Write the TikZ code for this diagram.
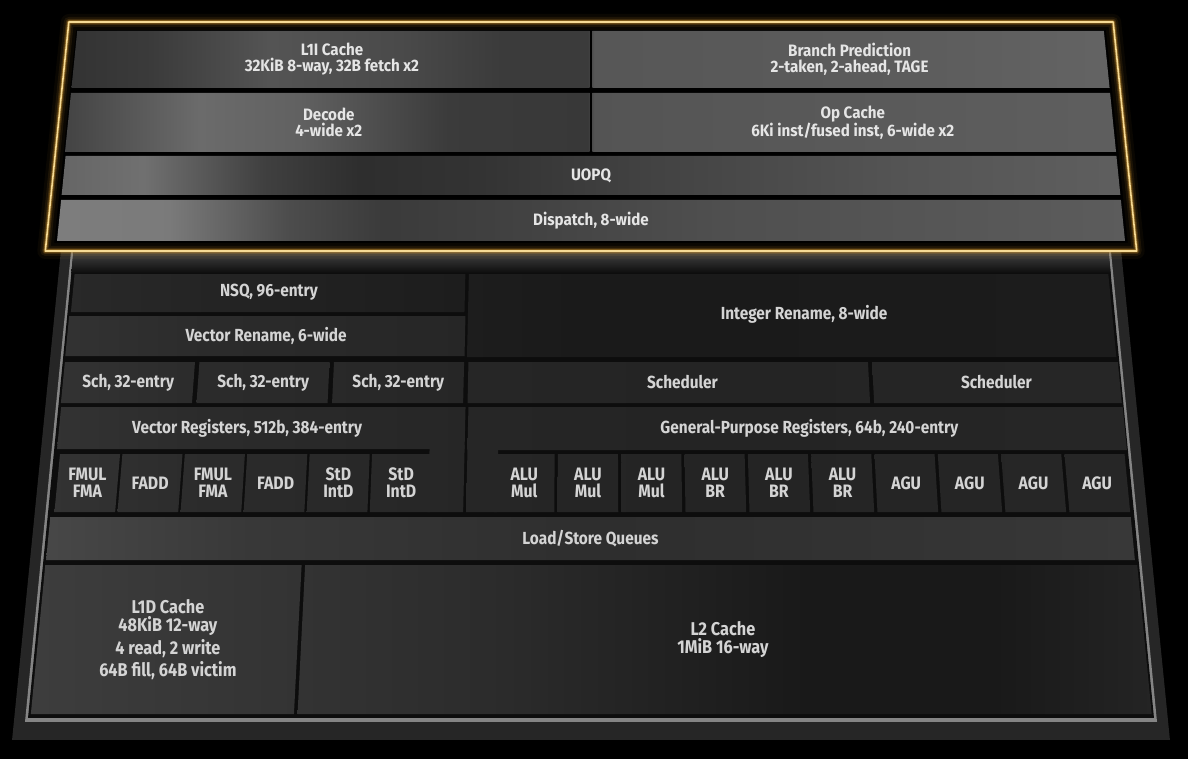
\documentclass[tikz,border=0pt]{standalone}
\usepackage{fontspec}
\setmainfont{Fira Sans}[FakeStretch=0.88]
\newfontfamily\fefont{Fira Sans}[FakeStretch=0.92]

\colorlet{txt}{black!17}
\colorlet{fetxt}{black!10}
\definecolor{gold}{HTML}{C8902C}
\definecolor{goldcore}{HTML}{F6DA94}

% row shadings, 25bp..75bp = x 0..1200
\pgfdeclarehorizontalshading{rowA}{100bp}{color(0bp)=(black!80); color(27.9bp)=(black!80); color(31.25bp)=(black!77); color(36.25bp)=(black!67); color(41.7bp)=(black!71); color(46bp)=(black!77); color(49.5bp)=(black!77); color(49.75bp)=(black!66); color(62.5bp)=(black!64); color(71.25bp)=(black!61); color(100bp)=(black!61)}
\pgfdeclarehorizontalshading{rowB}{100bp}{color(0bp)=(black!73); color(27.9bp)=(black!73); color(33.3bp)=(black!58); color(37.5bp)=(black!62); color(43.75bp)=(black!77); color(49.5bp)=(black!78); color(49.75bp)=(black!67); color(71.25bp)=(black!63); color(100bp)=(black!63)}
\pgfdeclarehorizontalshading{rowC}{100bp}{color(0bp)=(black!60); color(27.7bp)=(black!60); color(31bp)=(black!56); color(36bp)=(black!75); color(40bp)=(black!82); color(45bp)=(black!80); color(52bp)=(black!74); color(62.5bp)=(black!67); color(71.5bp)=(black!63); color(100bp)=(black!63)}
\pgfdeclarehorizontalshading{rowD}{100bp}{color(0bp)=(black!51); color(27.5bp)=(black!51); color(32bp)=(black!52); color(37bp)=(black!70); color(41bp)=(black!77); color(47bp)=(black!74); color(55bp)=(black!69); color(71.8bp)=(black!64); color(100bp)=(black!64)}
\pgfdeclarehorizontalshading{lowtop}{100bp}{color(0bp)=(black!84); color(28bp)=(black!84); color(37.5bp)=(black!87); color(50bp)=(black!90); color(71bp)=(black!89); color(100bp)=(black!89)}
\pgfdeclarehorizontalshading{lowA}{100bp}{color(0bp)=(black!80); color(27.1bp)=(black!80); color(33.3bp)=(black!83); color(44.2bp)=(black!85); color(54.2bp)=(black!86); color(72.1bp)=(black!85); color(100bp)=(black!85)}
\pgfdeclarehorizontalshading{lsq}{100bp}{color(0bp)=(black!72); color(26.9bp)=(black!72); color(35.4bp)=(black!78); color(50bp)=(black!82); color(62.5bp)=(black!80); color(72.3bp)=(black!78); color(100bp)=(black!78)}
\pgfdeclarehorizontalshading{cache}{100bp}{color(0bp)=(black!76); color(26.25bp)=(black!76); color(37.5bp)=(black!80); color(45.8bp)=(black!83); color(58.3bp)=(black!90); color(66.7bp)=(black!90); color(72.9bp)=(black!86); color(100bp)=(black!86)}

% flat u (from the middle) -> picture x, with the tilt of the die
\newcommand{\corners}[4]{%
  \pgfmathsetmacro\xa{591+(#1)*(1+0.000187*((#3)-400))}%
  \pgfmathsetmacro\xb{591+(#2)*(1+0.000187*((#3)-400))}%
  \pgfmathsetmacro\xc{591+(#2)*(1+0.000187*((#4)-400))}%
  \pgfmathsetmacro\xd{591+(#1)*(1+0.000187*((#4)-400))}}
\newcommand{\trap}[5]{\corners{#1}{#2}{#3}{#4}%
  \begin{scope}
    \clip (\xa,#3) -- (\xb,#3) -- (\xc,#4) -- (\xd,#4) -- cycle;
    \path[#5] (0,#3) rectangle (1200,#4);
  \end{scope}}
\newcommand{\blk}[8][0]{\trap{#4}{#5}{#6}{#7}{shade,shading=#3}%
  \node[lbl] (#2) at ({(\xa+\xb+\xc+\xd)/4+#1},{(#6+#7)/2}) {#8};}

\begin{document}
\begin{tikzpicture}[x=1pt,y=-1pt,line join=round,
    lbl/.style={text=txt,font=\bfseries\fontsize{17.5}{15}\selectfont,align=center,inner sep=0pt}]
  \useasboundingbox (0,0) rectangle (1188,759);
  \fill[black] (0,0) rectangle (1188,759);

  % die body and panel
  \trap{-545}{545}{246}{740}{fill=black!85}
  \trap{-534.5}{534.5}{246}{722}{fill=black!48}
  \trap{-532}{532}{246}{718}{fill=black!95}

  % back end
  \blk{nsq}{lowtop}{-528.6}{-128.6}{272}{312}{NSQ, 96-entry}
  \blk{vren}{lowA}{-530}{-127.5}{316}{356}{Vector Rename, 6-wide}
  \blk[14]{iren}{lowtop}{-125}{529.5}{272}{357}{Integer Rename, 8-wide}
  \foreach \i in {1,2,3}{
    \pgfmathsetmacro\ua{-529.8+135.5*(\i-1)}
    \blk{vsch\i}{lowA}{\ua}{\ua+131}{362}{403}{Sch, 32-entry}
  }
  \blk[14]{isch1}{lowA}{-123.4}{278.9}{362}{403}{Scheduler}
  \blk{isch2}{lowA}{283}{530.5}{362}{403}{Scheduler}
  \trap{-160}{-125.3}{445}{512}{shade,shading=lowA}
  \blk[-15]{vreg}{lowA}{-529.2}{-125.3}{407}{449}{Vector Registers, 512b, 384-entry}
  \trap{-122.4}{-92}{446}{512}{shade,shading=lowA}
  \blk[13]{gpr}{lowA}{-122.4}{531}{407}{450}{General-Purpose Registers, 64b, 240-entry}
  \begin{scope}[lbl/.style={text=txt,font=\bfseries\fontsize{18}{17.5}\selectfont,align=center,inner sep=0pt}]
    \foreach \lab [count=\i from 0] in {{FMUL\\FMA},FADD,{FMUL\\FMA},FADD,{StD\\IntD},{StD\\IntD}}{
      \pgfmathsetmacro\ua{-525.8+61.8*\i}
      \blk{fu\i}{lowA}{\ua}{\ua+59.5}{454}{512}{\lab}
    }
    \foreach \lab [count=\i from 0] in {{ALU\\Mul},{ALU\\Mul},{ALU\\Mul},{ALU\\BR},{ALU\\BR},{ALU\\BR},AGU,AGU,AGU,AGU}{
      \pgfmathsetmacro\ua{-95.5+62.7*\i}
      \blk{iu\i}{lowA}{\ua}{\ua+59.5}{454}{512}{\lab}
    }
  \end{scope}
  \blk{lsq}{lsq}{-529.4}{528.4}{517}{560}{Load/Store Queues}
  \begin{scope}[lbl/.style={text=txt,font=\bfseries\fontsize{18.5}{15.5}\selectfont,align=center,inner sep=0pt}]
    \blk{l1d}{cache}{-529.7}{-280.9}{565}{714}{L1D Cache\\[2.5pt]48KiB 12-way\\[2.5pt]4 read, 2 write\\[2.5pt]64B fill, 64B victim}
    \blk{l2}{cache}{-277.5}{530.2}{565}{714}{L2 Cache\\[2.5pt]1MiB 16-way}
  \end{scope}

  % under the front end
  \trap{-532}{532}{250}{274}{top color=black!72,bottom color=black!96}

  % front end
  \trap{-561}{561}{22}{251}{fill=black}
  \begin{scope}[lbl/.style={text=fetxt,font=\fefont\bfseries\fontsize{16.5}{16}\selectfont,align=center,inner sep=0pt}]
    \blk{l1i}{rowA}{-551}{-1.5}{31}{88}{L1I Cache\\32KiB 8-way, 32B fetch x2}
    \blk{bp}{rowA}{1.5}{550}{31}{88}{Branch Prediction\\2-taken, 2-ahead, TAGE}
    \blk{dec}{rowB}{-551}{-1.5}{93}{152}{Decode\\4-wide x2}
    \blk{opc}{rowB}{1.5}{550}{93}{152}{Op Cache\\6Ki inst/fused inst, 6-wide x2}
    \blk{uopq}{rowC}{-550}{550}{156}{195}{UOPQ}
    \blk{disp}{rowD}{-550}{550}{200}{241}{Dispatch, 8-wide}
  \end{scope}

  % glowing frame
  \corners{-561}{561}{22}{251}
  \foreach \w/\o in {16/0.05,10/0.1,6/0.2,3.5/0.45}
    \draw[gold,line width=\w,opacity=\o] (\xa,22) -- (\xb,22) -- (\xc,251) -- (\xd,251) -- cycle;
  \draw[goldcore,line width=1.6] (\xa,22) -- (\xb,22) -- (\xc,251) -- (\xd,251) -- cycle;
\end{tikzpicture}
\end{document}
